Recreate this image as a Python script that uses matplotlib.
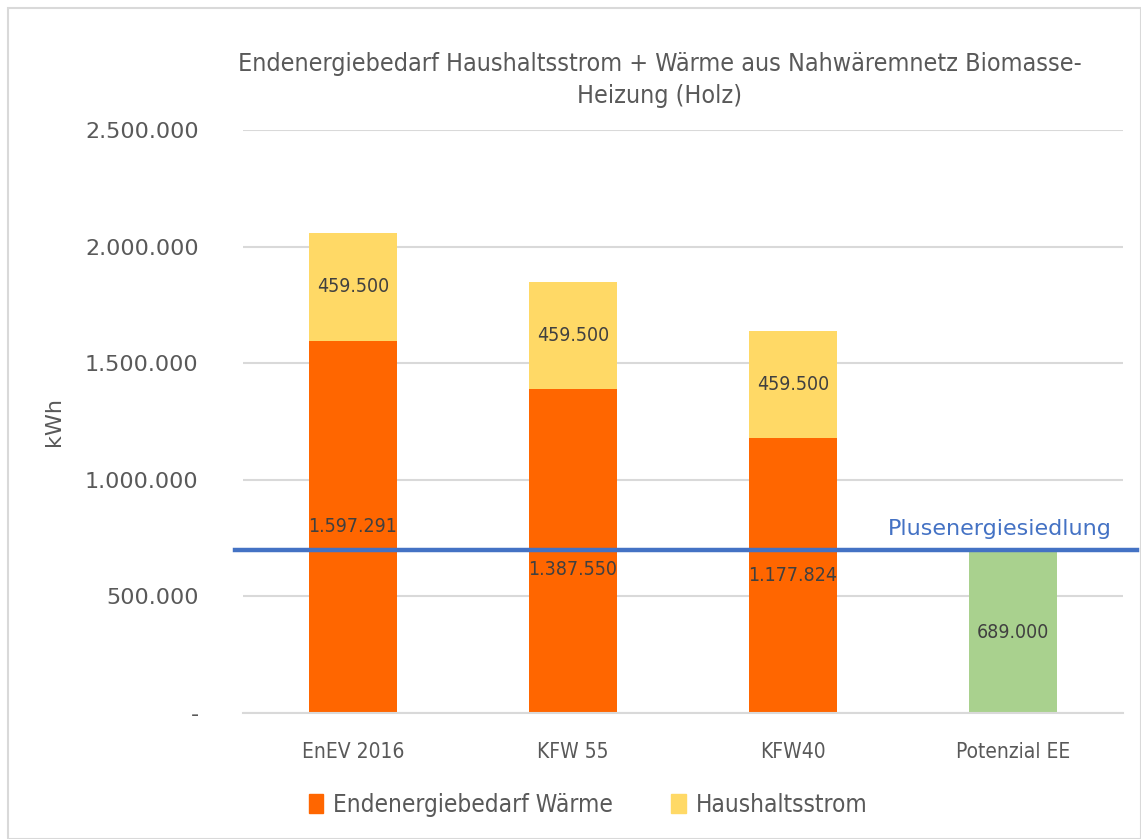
import matplotlib
matplotlib.use("Agg")
import matplotlib.pyplot as plt
from matplotlib.patches import Rectangle
from matplotlib.lines import Line2D
from matplotlib.font_manager import FontProperties

categories = ["EnEV 2016", "KFW 55", "KFW40", "Potenzial EE"]
waerme = [1597291, 1387550, 1177824, 0]
strom = [459500, 459500, 459500, 0]
potenzial = [0, 0, 0, 689000]
plus_level = 700000
yticks = [0, 500000, 1000000, 1500000, 2000000, 2500000]
ytick_labels = ["-", "500.000", "1.000.000", "1.500.000", "2.000.000", "2.500.000"]

title = "Endenergiebedarf Haushaltsstrom + Wärme aus Nahwäremnetz Biomasse-\nHeizung (Holz)"

def fmt(v):
    return f"{v:,.0f}".replace(",", ".")

TXT = "#595959"
ORANGE = "#FF6600"
YELLOW = "#FFD966"
GREEN = "#A9D18E"
BLUE = "#4472C4"

def narrow(size):
    return FontProperties(family="DejaVu Sans", stretch="condensed", size=size)

fig = plt.figure(figsize=(11.41, 8.39), dpi=100)
W, H = 1141, 839
ax = fig.add_axes([243 / W, (H - 713) / H, 880 / W, 583 / H])

x = list(range(len(categories)))
bw = 0.4
ax.bar(x, waerme, width=bw, color=ORANGE, zorder=2, label="Endenergiebedarf Wärme")
ax.bar(x, strom, width=bw, bottom=waerme, color=YELLOW, zorder=2, label="Haushaltsstrom")
ax.bar(x, potenzial, width=bw, color=GREEN, zorder=2)

ax.set_xlim(-0.5, 3.5)
ax.set_ylim(0, 2500000)
ax.set_yticks(yticks)
ax.set_yticklabels(ytick_labels)
ax.yaxis.grid(True, color="#D9D9D9", linewidth=1.5, zorder=0)
ax.set_axisbelow(True)
for s in ["top", "right", "left"]:
    ax.spines[s].set_visible(False)
ax.spines["bottom"].set_color("#D9D9D9")
ax.spines["bottom"].set_linewidth(1.5)
ax.tick_params(axis="both", length=0, colors=TXT)
ax.tick_params(axis="y", labelsize=16, pad=32)
ax.set_xticks(x)
ax.set_xticklabels(categories)
for lbl in ax.get_xticklabels():
    lbl.set_fontproperties(narrow(15))
ax.tick_params(axis="x", pad=21)
ax.set_ylabel("kWh", fontsize=16, color=TXT, labelpad=15)

# data labels
label_shift = [0, -80000, 0, 0]
for i in x:
    if waerme[i] > 0:
        ax.text(i, waerme[i] / 2 + label_shift[i], fmt(waerme[i]), ha="center", va="center",
                fontproperties=narrow(14), color="#404040", zorder=4)
    if strom[i] > 0:
        ax.text(i, waerme[i] + strom[i] / 2, fmt(strom[i]), ha="center", va="center",
                fontproperties=narrow(14), color="#404040", zorder=4)
    if potenzial[i] > 0:
        ax.text(i, potenzial[i] / 2, fmt(potenzial[i]), ha="center", va="center",
                fontproperties=narrow(14), color="#404040", zorder=4)

# Plusenergiesiedlung line (extends beyond axes)
line_y = ax.transData.transform((0, plus_level))[1] / H
fig.add_artist(Line2D([235 / W, 1137 / W], [line_y, line_y], color=BLUE, linewidth=3.2, zorder=5))
ax.text(3.45, plus_level + 45000, "Plusenergiesiedlung", ha="right", va="bottom",
        fontsize=16, color=BLUE, zorder=6)

fig.text(660 / W, (H - 80) / H, title, ha="center", va="center",
         fontproperties=narrow(18), color=TXT, linespacing=1.45)

handles = [Rectangle((0, 0), 1, 1, color=ORANGE), Rectangle((0, 0), 1, 1, color=YELLOW)]
fig.legend(handles, ["Endenergiebedarf Wärme", "Haushaltsstrom"], loc="center",
           bbox_to_anchor=(588 / W, (H - 805) / H), ncol=2, frameon=False,
           prop=narrow(17.5), labelcolor=TXT, handlelength=0.6,
           handleheight=0.8, handletextpad=0.4, columnspacing=2.4)

fig.add_artist(Rectangle((8 / W, 0), (W - 8) / W, (H - 8) / H, transform=fig.transFigure,
                         fill=False, edgecolor="#D9D9D9", linewidth=1.5))

fig.savefig("out.png", dpi=100)
